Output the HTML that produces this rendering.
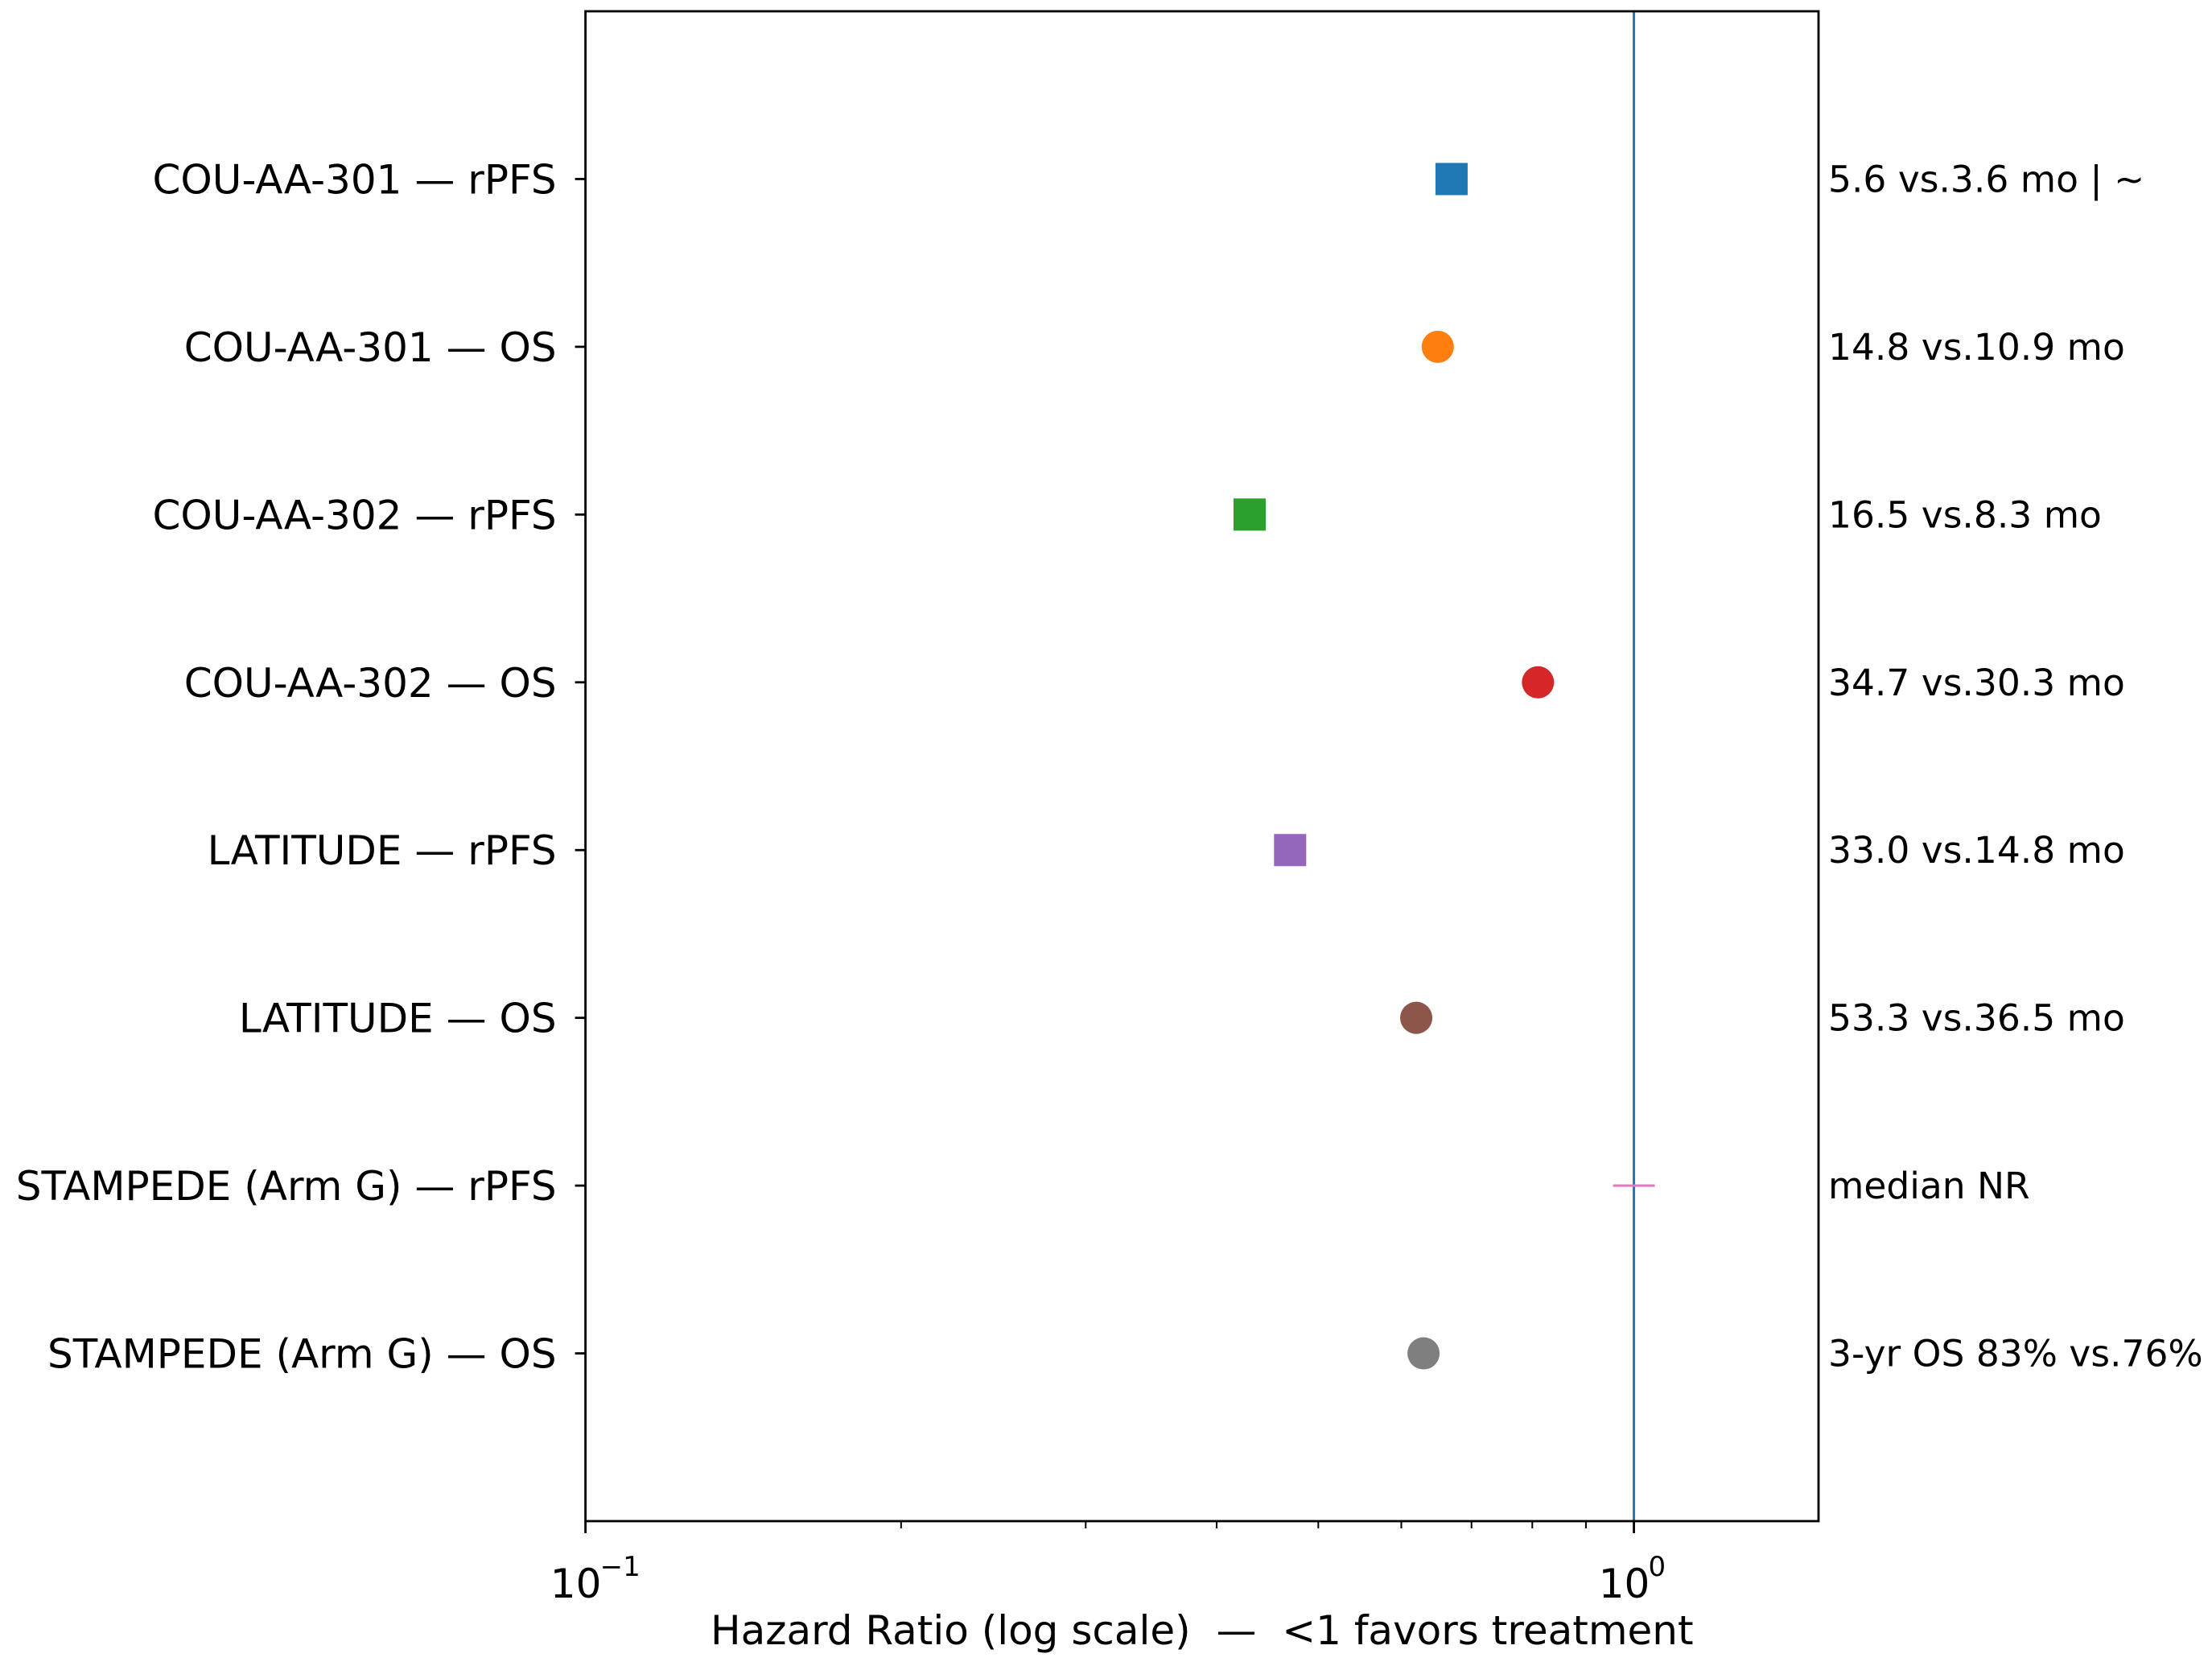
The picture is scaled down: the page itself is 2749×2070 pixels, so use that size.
<!DOCTYPE html>
<html><head><meta charset="utf-8"><style>
html,body{margin:0;padding:0;background:#fff;}
svg{display:block;font-family:"DejaVu Sans","Liberation Sans",sans-serif;}
</style></head><body>
<svg id="chart" width="2749" height="2070" viewBox="0 0 2749 2070" xmlns="http://www.w3.org/2000/svg">
<rect width="2749" height="2070" fill="#fff"/>
<g id="plot"></g>
</svg>
<script>
const categories = ["COU-AA-301 — rPFS","COU-AA-301 — OS","COU-AA-302 — rPFS","COU-AA-302 — OS","LATITUDE — rPFS","LATITUDE — OS","STAMPEDE (Arm G) — rPFS","STAMPEDE (Arm G) — OS"];
const hrValues = [0.67, 0.65, 0.43, 0.81, 0.47, 0.62, 1.0, 0.63];
const markerTypes = ["square","circle","square","circle","square","circle","hline","circle"];
const colors = ["#1f77b4","#ff7f0e","#2ca02c","#d62728","#9467bd","#8c564b","#e377c2","#7f7f7f"];
const annotations = ["5.6 vs.3.6 mo | ~","14.8 vs.10.9 mo","16.5 vs.8.3 mo","34.7 vs.30.3 mo","33.0 vs.14.8 mo","53.3 vs.36.5 mo","median NR","3-yr OS 83% vs.76%"];
const majorTicks = [0.1, 1];
const majorTickLabels = ["10", "10"];
const majorTickExp = ["−1", "0"];
const minorTicks = [0.2,0.3,0.4,0.5,0.6,0.7,0.8,0.9];
const refValue = 1.0;

const NS="http://www.w3.org/2000/svg";
const g=document.getElementById('plot');
const L=727.6,R=2260,T=14,B=1890;
const xmin=0.1,xmax=1.5;
function xs(v){return L+(Math.log10(v)-Math.log10(xmin))/(Math.log10(xmax)-Math.log10(xmin))*(R-L);}
function ys(i){return T+(i+1)/9*(B-T);}
function mk(tag,attrs,parent){const e=document.createElementNS(NS,tag);for(const k in attrs)e.setAttribute(k,attrs[k]);(parent||g).appendChild(e);return e;}

let ref=mk('line',{x1:xs(refValue),x2:xs(refValue),y1:T,y2:B,stroke:'#1f77b4','stroke-width':3});



categories.forEach((c,i)=>{
  const y=ys(i), x=xs(hrValues[i]);
  let m;
  if(markerTypes[i]==='square'){
    m=mk('rect',{x:x-20,y:y-20,width:40,height:40,fill:colors[i]});
  } else if(markerTypes[i]==='circle'){
    m=mk('circle',{cx:x,cy:y,r:20,fill:colors[i]});
  } else {
    m=mk('line',{x1:x-26,x2:x+26,y1:y,y2:y,stroke:colors[i],'stroke-width':3});
  }
  
  
  mk('line',{x1:L-13,x2:L,y1:y,y2:y,stroke:'#000','stroke-width':2.8});
  let t=mk('text',{x:L-36,y:y+18,'text-anchor':'end','font-size':50,fill:'#000'});
  t.textContent=c;
  
  
  let a=mk('text',{x:2272,y:y+16,'font-size':45.5,fill:'#000'});
  a.textContent=annotations[i];
  
  
});

let fr=mk('rect',{x:L,y:T,width:R-L,height:B-T,fill:'none',stroke:'#000','stroke-width':2.8});



majorTicks.forEach((v,i)=>{
  const x=xs(v);
  mk('line',{x1:x,x2:x,y1:B,y2:B+15,stroke:'#000','stroke-width':2.8});
  let t=mk('text',{x:x-12,y:1985,'text-anchor':'middle','font-size':50,fill:'#000'});
  t.textContent=majorTickLabels[i];
  
  
  let s=mk('text',{x:x+18,y:1958,'font-size':34,fill:'#000'});
  s.textContent=majorTickExp[i];
});
minorTicks.forEach(v=>{const x=xs(v);mk('line',{x1:x,x2:x,y1:B,y2:B+9,stroke:'#000','stroke-width':2});});

let xl=mk('text',{x:(L+R)/2,y:2043,'text-anchor':'middle','font-size':50,fill:'#000',style:'white-space:pre'});
xl.textContent='Hazard Ratio (log scale)  —  <1 favors treatment';


</script>
</body></html>
